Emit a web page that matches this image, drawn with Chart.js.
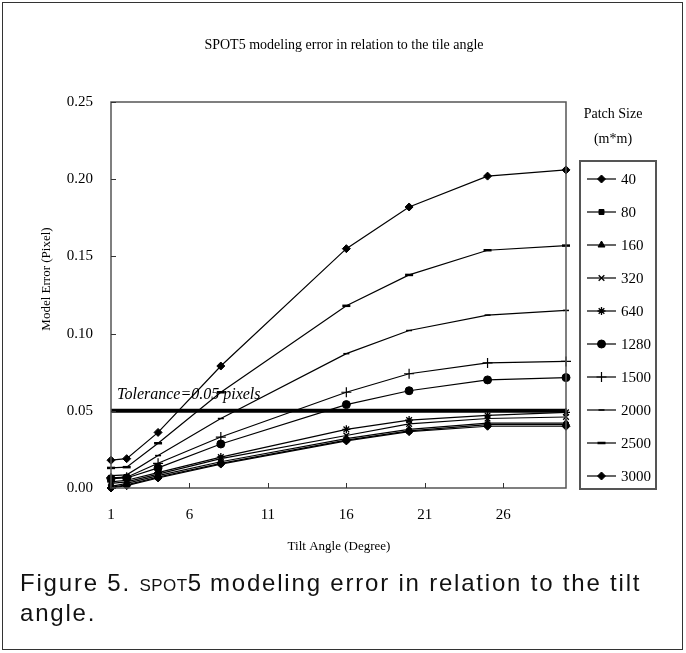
<!DOCTYPE html>
<html>
<head>
<meta charset="utf-8">
<script src="https://cdn.jsdelivr.net/npm/chart.js@4"></script>
<style>
  html, body { margin: 0; padding: 0; background: #fff; }
  #wrap { position: relative; width: 686px; height: 653px; overflow: hidden; }
  #frame { position: absolute; left: 2px; top: 2px; width: 679px; height: 646px; border: 1.5px solid #333; }
  #c { position: absolute; left: 0; top: 0; }
  #caption {
    position: absolute; left: 20px; top: 568px; width: 660px; white-space: nowrap;
    font-family: "Liberation Sans", Arial, sans-serif; font-size: 24px; line-height: 30px;
    letter-spacing: 1.8px; color: #111;
  }
  .sc { font-variant: small-caps; letter-spacing: 0.5px; }
</style>
</head>
<body>
<div id="wrap">
  <div id="frame"></div>
  <canvas id="c" width="686" height="653"></canvas>
  <div id="caption">Figure 5. <span class="sc">spot5</span> modeling error in relation to the tilt<br>angle.</div>
</div>
<script>
// values
const tiltAngles = [1, 2, 4, 8, 16, 20, 25, 30];
const patchSizes = ['40', '80', '160', '320', '640', '1280', '1500', '2000', '2500', '3000'];
const err40   = [0.000, 0.0015, 0.0065, 0.0155, 0.0305, 0.0365, 0.040, 0.040];
const err80   = [0.0005, 0.002, 0.007, 0.016, 0.031, 0.037, 0.041, 0.041];
const err160  = [0.001, 0.003, 0.008, 0.017, 0.032, 0.038, 0.042, 0.042];
const err320  = [0.003, 0.004, 0.009, 0.019, 0.034, 0.0415, 0.045, 0.046];
const err640  = [0.004, 0.005, 0.010, 0.020, 0.038, 0.044, 0.047, 0.049];
const err1280 = [0.006, 0.0065, 0.013, 0.0285, 0.054, 0.063, 0.070, 0.0715];
const err1500 = [0.0065, 0.007, 0.016, 0.033, 0.062, 0.074, 0.081, 0.082];
const err2000 = [0.008, 0.0085, 0.021, 0.045, 0.087, 0.102, 0.112, 0.115];
const err2500 = [0.013, 0.0135, 0.029, 0.062, 0.118, 0.138, 0.154, 0.157];
const err3000 = [0.018, 0.019, 0.036, 0.079, 0.155, 0.182, 0.202, 0.206];
const xTicks = [1, 6, 11, 16, 21, 26];
const yTicks = [0, 0.05, 0.10, 0.15, 0.20, 0.25];
const tolerance = 0.05;
const chartTitle = 'SPOT5 modeling error in relation to the tile angle';

const allErrors = [err40, err80, err160, err320, err640, err1280, err1500, err2000, err2500, err3000];

// marker look per patch size
const markers = [
  { pointStyle: 'rectRot', radius: 4, borderWidth: 1 },
  { pointStyle: 'rect', radius: 3.5, borderWidth: 1 },
  { pointStyle: 'triangle', radius: 4, borderWidth: 1 },
  { pointStyle: 'crossRot', radius: 4, borderWidth: 1.3 },
  { pointStyle: 'star', radius: 4, borderWidth: 1.3 },
  { pointStyle: 'circle', radius: 4, borderWidth: 1 },
  { pointStyle: 'cross', radius: 5, borderWidth: 1.2 },
  { pointStyle: 'line', radius: 3, borderWidth: 1.5 },
  { pointStyle: 'line', radius: 4, borderWidth: 2.5 },
  { pointStyle: 'rectRot', radius: 4, borderWidth: 1 }
];

const serif = '"Liberation Serif", "Times New Roman", serif';

const datasets = allErrors.map((vals, i) => ({
  label: patchSizes[i],
  data: tiltAngles.map((a, j) => ({ x: a, y: vals[j] })),
  borderColor: '#000',
  backgroundColor: '#000',
  borderWidth: 1.2,
  pointStyle: markers[i].pointStyle,
  pointRadius: markers[i].radius,
  pointBorderWidth: markers[i].borderWidth,
  pointBorderColor: '#000',
  pointBackgroundColor: '#000',
  tension: 0,
  clip: false
}));

datasets.push({
  label: 'tolerance',
  data: [{ x: tiltAngles[0], y: tolerance }, { x: tiltAngles[tiltAngles.length - 1], y: tolerance }],
  borderColor: '#000',
  borderWidth: 4,
  pointRadius: 0,
  clip: false
});

const decorPlugin = {
  id: 'decor',
  afterDraw(chart) {
    const ctx = chart.ctx;
    const area = chart.chartArea;
    const xs = chart.scales.x;
    const ys = chart.scales.y;
    ctx.save();

    // plot box
    ctx.strokeStyle = '#555';
    ctx.lineWidth = 1.5;
    ctx.strokeRect(area.left, area.top, area.right - area.left, area.bottom - area.top);

    // inward tick marks
    ctx.strokeStyle = '#333';
    ctx.lineWidth = 1;
    ctx.beginPath();
    xTicks.forEach(v => {
      const px = Math.round(xs.getPixelForValue(v)) + 0.5;
      ctx.moveTo(px, area.bottom);
      ctx.lineTo(px, area.bottom - 5);
    });
    yTicks.forEach(v => {
      const py = Math.round(ys.getPixelForValue(v)) + 0.5;
      ctx.moveTo(area.left, py);
      ctx.lineTo(area.left + 5, py);
    });
    ctx.stroke();

    // titles
    ctx.fillStyle = '#000';
    ctx.textAlign = 'center';
    ctx.textBaseline = 'middle';
    ctx.font = '14px ' + serif;
    ctx.fillText(chartTitle, 344, 45);
    ctx.font = '13px ' + serif;
    ctx.fillText('Tilt Angle (Degree)', 339, 547);
    ctx.save();
    ctx.translate(47, 279);
    ctx.rotate(-Math.PI / 2);
    ctx.fillText('Model Error (Pixel)', 0, 0);
    ctx.restore();

    // tolerance note
    ctx.font = 'italic 16px ' + serif;
    ctx.textAlign = 'left';
    ctx.textBaseline = 'alphabetic';
    ctx.fillText('Tolerance=0.05 pixels', area.left + 6, ys.getPixelForValue(tolerance) - 12);

    // legend
    ctx.textAlign = 'center';
    ctx.textBaseline = 'middle';
    ctx.font = '14px ' + serif;
    ctx.fillText('Patch Size', 613, 114);
    ctx.fillText('(m*m)', 613, 139);
    ctx.strokeStyle = '#555';
    ctx.lineWidth = 2;
    ctx.strokeRect(580, 161, 76, 328);
    ctx.font = '15px ' + serif;
    ctx.textAlign = 'left';
    patchSizes.forEach((name, i) => {
      const y = 179 + i * 33;
      ctx.strokeStyle = '#000';
      ctx.fillStyle = '#000';
      ctx.lineWidth = 1.2;
      ctx.beginPath();
      ctx.moveTo(587, y);
      ctx.lineTo(616, y);
      ctx.stroke();
      const m = markers[i];
      ctx.lineWidth = m.borderWidth;
      Chart.helpers.drawPoint(ctx, { pointStyle: m.pointStyle, radius: m.radius, rotation: 0, borderWidth: m.borderWidth }, 601.5, y);
      ctx.fillStyle = '#000';
      ctx.fillText(name, 621, y + 1);
    });

    ctx.restore();
  }
};

new Chart(document.getElementById('c'), {
  type: 'line',
  data: { datasets: datasets },
  options: {
    responsive: false,
    animation: false,
    layout: { padding: { left: 0, top: 102, right: 120, bottom: 0 } },
    plugins: {
      legend: { display: false },
      tooltip: { enabled: false }
    },
    scales: {
      x: {
        type: 'linear',
        min: 1,
        max: 30,
        grid: { display: false, drawTicks: false },
        border: { display: false },
        afterBuildTicks: s => { s.ticks = xTicks.map(v => ({ value: v })); },
        afterFit: s => { s.height = 165; },
        ticks: {
          padding: 18,
          color: '#000',
          font: { family: serif, size: 15 },
          maxRotation: 0
        }
      },
      y: {
        min: 0,
        max: 0.25,
        grid: { display: false, drawTicks: false },
        border: { display: false },
        afterBuildTicks: s => { s.ticks = yTicks.map(v => ({ value: v })); },
        afterFit: s => { s.width = 111; },
        ticks: {
          padding: 18,
          color: '#000',
          font: { family: serif, size: 15 },
          callback: v => v.toFixed(2)
        }
      }
    }
  },
  plugins: [decorPlugin]
});
</script>
</body>
</html>
